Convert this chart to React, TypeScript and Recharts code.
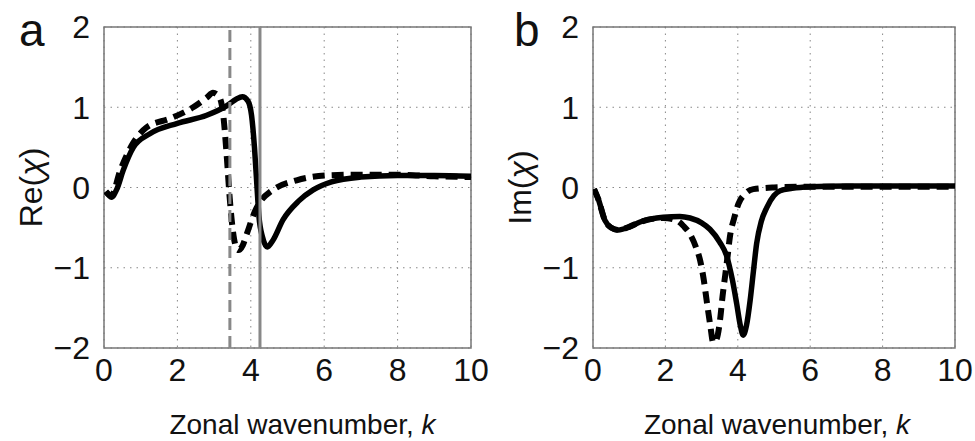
import React from "react";
import {
  LineChart,
  Line,
  XAxis,
  YAxis,
  CartesianGrid,
  ReferenceLine,
  ReferenceArea,
} from "recharts";

// panel a, Re(chi)
const reSolidK = [0.05, 0.2, 0.35, 0.52, 0.8, 1.25, 2.0, 2.8, 3.35, 3.6, 3.77, 3.92, 4.02, 4.1, 4.17, 4.22, 4.32, 4.45, 4.6, 4.88, 5.3, 5.7, 6.2, 7, 8, 9, 10];
const reSolidV = [-0.05, -0.12, -0.02, 0.21, 0.5, 0.67, 0.8, 0.9, 1.02, 1.1, 1.13, 1.08, 0.9, 0.5, 0.0, -0.35, -0.62, -0.74, -0.66, -0.4, -0.17, -0.03, 0.07, 0.13, 0.15, 0.15, 0.14];
const reDashK = [0.05, 0.2, 0.44, 0.75, 1.16, 1.8, 2.43, 2.8, 2.97, 3.15, 3.25, 3.34, 3.42, 3.48, 3.57, 3.66, 3.78, 3.89, 4.12, 4.3, 4.57, 5.25, 6.07, 7, 8, 9, 10];
const reDashV = [-0.05, -0.1, 0.21, 0.52, 0.75, 0.86, 1.0, 1.12, 1.18, 1.12, 0.9, 0.42, -0.1, -0.41, -0.7, -0.78, -0.72, -0.58, -0.29, -0.15, -0.04, 0.09, 0.15, 0.16, 0.16, 0.14, 0.13];
const markerDashed = 3.43;
const markerSolid = 4.25;

// panel b, Im(chi)
const imSolidK = [0.03, 0.15, 0.33, 0.5, 0.7, 1.0, 1.3, 1.94, 2.4, 2.68, 3.0, 3.23, 3.5, 3.69, 3.85, 3.97, 4.07, 4.15, 4.24, 4.34, 4.43, 4.52, 4.65, 4.8, 5.0, 5.17, 5.5, 6, 7, 10];
const imSolidV = [-0.02, -0.15, -0.41, -0.5, -0.53, -0.49, -0.43, -0.37, -0.36, -0.38, -0.44, -0.52, -0.68, -0.85, -1.15, -1.45, -1.72, -1.84, -1.72, -1.41, -1.05, -0.7, -0.42, -0.25, -0.1, -0.04, -0.01, 0.01, 0.02, 0.02];
const imDashK = [0.03, 0.15, 0.33, 0.5, 0.7, 1.0, 1.3, 1.94, 2.31, 2.5, 2.68, 2.85, 2.96, 3.06, 3.14, 3.24, 3.32, 3.42, 3.51, 3.58, 3.65, 3.72, 3.78, 3.9, 4.02, 4.2, 4.43, 5, 6, 10];
const imDashV = [-0.02, -0.15, -0.41, -0.5, -0.53, -0.49, -0.43, -0.38, -0.41, -0.48, -0.58, -0.75, -0.91, -1.15, -1.41, -1.72, -1.93, -1.88, -1.65, -1.35, -1.1, -0.85, -0.62, -0.38, -0.2, -0.08, -0.02, 0.0, 0.01, 0.01];

const xTicks = [0, 2, 4, 6, 8, 10];
const yTicks = [-2, -1, 0, 1, 2];

const FONT = '"Liberation Sans", Arial, Helvetica, sans-serif';

const zip = (ks: number[], vs: number[]) => ks.map((k, i) => ({ k, v: vs[i] }));
const fmt = (v: number) => String(v).replace("-", "\u2212");

function xTitle(shift: number) {
  return (props: any) => {
    const vb = props.viewBox || { x: 0, y: 0, width: 0, height: 0 };
    return (
      <text
        x={vb.x + vb.width / 2 + shift}
        y={vb.y + 86}
        textAnchor="middle"
        fontSize={28}
        fontFamily={FONT}
        fill="#111"
      >
        Zonal wavenumber, <tspan fontStyle="italic">k</tspan>
      </text>
    );
  };
}

function yTitle(name: string) {
  return (props: any) => {
    const vb = props.viewBox || { x: 0, y: 0, width: 0, height: 0 };
    const x = vb.x + vb.width - 62;
    const y = vb.y + vb.height / 2;
    return (
      <text
        x={x}
        y={y}
        transform={`rotate(-90 ${x} ${y})`}
        textAnchor="middle"
        fontSize={32}
        fontFamily={FONT}
        fill="#111"
      >
        {name}(<tspan fontStyle="italic">χ</tspan>)
      </text>
    );
  };
}

interface PanelProps {
  solid: { k: number; v: number }[];
  dashed: { k: number; v: number }[];
  yName: string;
  left: number;
  width: number;
  marginLeft: number;
  marginRight: number;
  titleShift: number;
  markers?: boolean;
}

function Panel({ solid, dashed, yName, left, width, marginLeft, marginRight, titleShift, markers }: PanelProps) {
  const tick = { fontSize: 32, fill: "#111", fontFamily: FONT };
  return (
    <div style={{ position: "absolute", left, top: 0 }}>
      <LineChart
        width={width}
        height={441}
        margin={{ top: 27, right: marginRight, left: marginLeft, bottom: 0 }}
      >
        <CartesianGrid stroke="#888" strokeDasharray="1.5 5" />
        <XAxis
          dataKey="k"
          type="number"
          domain={[0, 10]}
          ticks={xTicks}
          tick={tick}
          tickLine={false}
          axisLine={false}
          tickMargin={4}
          height={93}
          interval={0}
          allowDataOverflow
          label={xTitle(titleShift)}
        />
        <YAxis
          type="number"
          domain={[-2, 2]}
          ticks={yTicks}
          tick={tick}
          tickFormatter={fmt}
          tickLine={false}
          axisLine={false}
          tickMargin={8}
          width={90}
          interval={0}
          allowDataOverflow
          label={yTitle(yName)}
        />
        <ReferenceArea x1={0} x2={10} y1={-2} y2={2} fill="none" stroke="#777" strokeWidth={1.5} />
        <Line
          data={dashed}
          dataKey="v"
          type="monotone"
          stroke="#000"
          strokeWidth={6}
          strokeDasharray="12 7"
          dot={false}
          isAnimationActive={false}
        />
        <Line
          data={solid}
          dataKey="v"
          type="monotone"
          stroke="#000"
          strokeWidth={5.5}
          dot={false}
          isAnimationActive={false}
        />
        {markers && (
          <ReferenceLine x={markerDashed} stroke="#888" strokeWidth={3} strokeDasharray="12 6" />
        )}
        {markers && <ReferenceLine x={markerSolid} stroke="#888" strokeWidth={3} />}
      </LineChart>
    </div>
  );
}

export default function App() {
  const letter: React.CSSProperties = {
    position: "absolute",
    top: 0,
    fontFamily: FONT,
    fontSize: 46,
    lineHeight: "60px",
    color: "#111",
  };
  return (
    <div style={{ position: "absolute", left: 0, top: 0, width: 975, height: 441, background: "#fff", overflow: "hidden" }}>
      <Panel
        solid={zip(imSolidK, imSolidV)}
        dashed={zip(imDashK, imDashV)}
        yName="Im"
        left={480}
        width={495}
        marginLeft={23}
        marginRight={20}
        titleShift={3}
      />
      <Panel
        solid={zip(reSolidK, reSolidV)}
        dashed={zip(reDashK, reDashV)}
        yName="Re"
        left={0}
        width={500}
        marginLeft={14}
        marginRight={29}
        titleShift={15}
        markers
      />
      <div style={{ ...letter, left: 19 }}>a</div>
      <div style={{ ...letter, left: 514 }}>b</div>
    </div>
  );
}
